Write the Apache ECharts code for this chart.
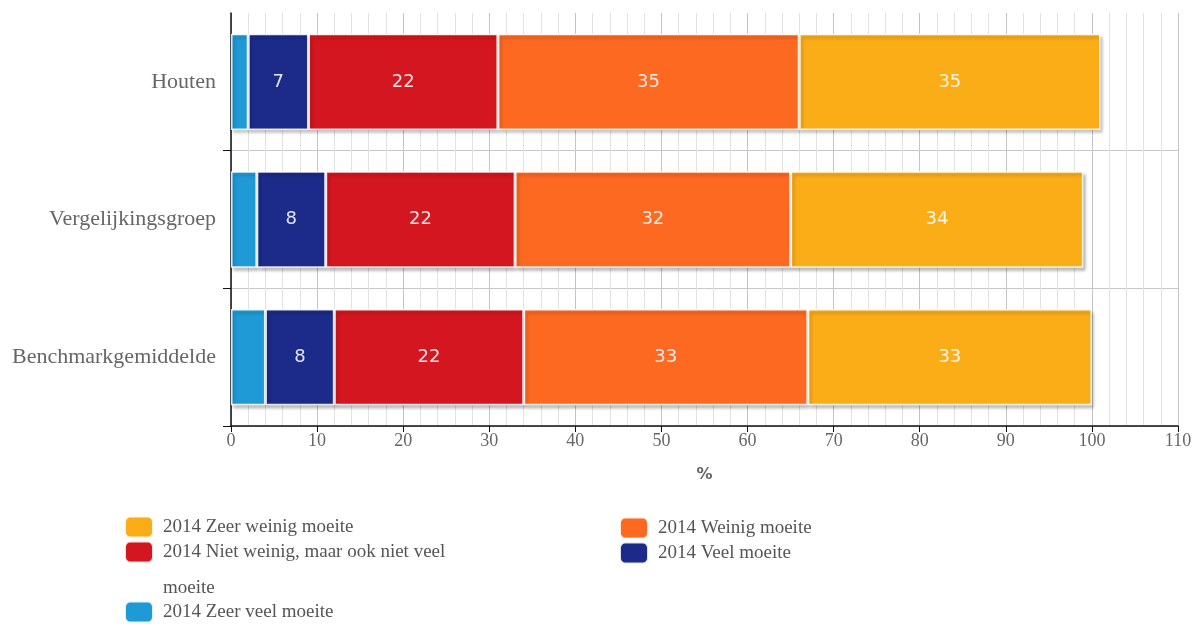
<!DOCTYPE html>
<html>
<head>
<meta charset="utf-8">
<script src="https://cdn.jsdelivr.net/npm/echarts@6/dist/echarts.min.js"></script>
<style>html,body{margin:0;padding:0;background:#fff}#c{width:1203px;height:624px}</style>
</head>
<body>
<div id="c"></div>
<script>
var categories = ['Houten', 'Vergelijkingsgroep', 'Benchmarkgemiddelde'];
var seriesNames = ['2014 Zeer veel moeite', '2014 Veel moeite', '2014 Niet weinig, maar ook niet veel moeite', '2014 Weinig moeite', '2014 Zeer weinig moeite'];
var zeerVeel = [2, 3, 4];
var veel = [7, 8, 8];
var nietWeinig = [22, 22, 22];
var weinig = [35, 32, 33];
var zeerWeinig = [35, 34, 33];
var xTicks = [0, 10, 20, 30, 40, 50, 60, 70, 80, 90, 100, 110];
var colors = ['#1f9ad6', '#1c2a8a', '#d3161f', '#fd6920', '#fbad18'];
var values = [zeerVeel, veel, nietWeinig, weinig, zeerWeinig];

var serif = 'Liberation Serif';
var series = seriesNames.map(function (n, i) {
  return {
    name: n,
    type: 'bar',
    stack: 'total',
    barWidth: '70%',
    data: values[i],
    itemStyle: {
      color: colors[i],
      borderColor: 'rgba(255,255,255,0.85)',
      borderWidth: 1.5,
      shadowColor: 'rgba(0,0,0,0.25)',
      shadowBlur: 3,
      shadowOffsetX: 2,
      shadowOffsetY: 3
    },
    label: {
      show: i !== 0,
      position: 'inside',
      color: 'rgba(255,255,255,0.88)',
      fontFamily: 'DejaVu Sans',
      fontSize: 18
    }
  };
});

function leg(name, left, centerY) {
  var isWrap = name.indexOf('Niet weinig') >= 0;
  var lh = isWrap ? 36 : 22;
  return {
    data: [name],
    left: left,
    top: isWrap ? centerY - 1.5 * lh : centerY - 10.5,
    padding: 0,
    orient: 'horizontal',
    icon: 'roundRect',
    itemWidth: 28,
    itemHeight: 21,
    selectedMode: false,
    formatter: function (n) {
      if (isWrap) {
        var k = n.lastIndexOf(' ');
        return '\n' + n.slice(0, k) + '\n' + n.slice(k + 1);
      }
      return n;
    },
    textStyle: {
      fontFamily: serif,
      fontSize: 19,
      color: '#555',
      padding: [0, 0, 0, 5],
      lineHeight: lh
    }
  };
}

var chart = echarts.init(document.getElementById('c'));
chart.setOption({
  animation: false,
  backgroundColor: '#fff',
  grid: { left: 231, right: 25, top: 13, bottom: 198 },
  legend: [
    leg(seriesNames[4], 124, 526),
    leg(seriesNames[3], 619, 527),
    leg(seriesNames[2], 124, 552),
    leg(seriesNames[1], 619, 552),
    leg(seriesNames[0], 124, 611)
  ],
  xAxis: {
    type: 'value',
    min: xTicks[0],
    max: xTicks[xTicks.length - 1],
    interval: 10,
    name: '%',
    nameLocation: 'middle',
    nameGap: 41,
    nameTextStyle: { fontFamily: 'DejaVu Sans', fontWeight: 'bold', fontSize: 16, color: '#666' },
    axisLine: { show: true, lineStyle: { color: '#111', width: 1.5 } },
    axisTick: { show: true, length: 6, lineStyle: { color: '#111' } },
    axisLabel: { fontFamily: serif, fontSize: 18, color: '#666', margin: 6 },
    splitLine: { show: true, lineStyle: { color: '#c4c4c4', width: 1 } },
    minorTick: { show: false, splitNumber: 5 },
    minorSplitLine: { show: true, lineStyle: { color: '#e2e2e2', width: 1 } }
  },
  yAxis: {
    type: 'category',
    inverse: true,
    data: categories,
    axisLine: { show: true, lineStyle: { color: '#111', width: 1.5 } },
    axisTick: { show: true, length: 8, interval: function (i) { return i !== 0; }, lineStyle: { color: '#111' } },
    axisLabel: { fontFamily: serif, fontSize: 22, color: '#666', margin: 15 },
    splitLine: { show: true, interval: function (i) { return i !== 0; }, lineStyle: { color: '#c8c8c8', width: 1 } }
  },
  series: series
});
</script>
</body>
</html>
